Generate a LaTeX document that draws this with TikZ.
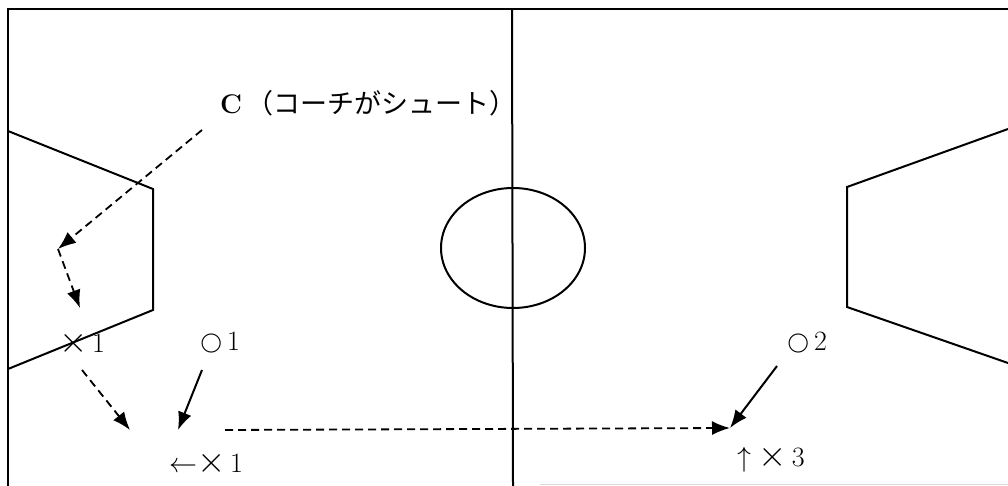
\documentclass[tikz,border=0pt]{standalone}
\usepackage{amsmath}
\usepackage{fontspec}
\usepackage{unicode-math}
\newfontfamily\jpfont{Noto Sans CJK JP}
\usetikzlibrary{arrows.meta}

\newcommand{\cross}{\scalebox{1.3}{$\times$}}

\tikzset{
  court/.style={line width=2pt},
  dashedarrow/.style={line width=1.8pt, dash pattern=on 8pt off 5pt, -{Latex[length=18pt,width=14pt]}},
  solidarrow/.style={line width=2pt, -{Latex[length=18pt,width=14pt]}},
  lbl/.style={inner sep=0pt, font=\fontsize{28}{30}\selectfont}
}

\begin{document}
\begin{tikzpicture}[x=1pt,y=-1pt]
	\useasboundingbox (0,0) rectangle (1008,486);
	
	% Court outline
	\draw[court] (1008,9) -- (8,9) -- (8,486);
	\draw[gray!30, line width=1pt] (540,484) -- (1008,484);
	
	% Center line and circle
	\draw[court] (512,9) -- (513,486);
	\draw[court] (513,248) ellipse (72 and 60);
	
	% Goal areas
	\draw[court] (8,131) -- (153,189) -- (153,310) -- (8,369);
	\draw[court] (1008,129) -- (847,187) -- (847,307) -- (1008,363);
	
	% Labels
	\node[lbl, anchor=west, font=\fontsize{27}{30}\selectfont] (coach) at (220,103) {\textbf{C}\,\jpfont（コーチがシュート）};
	\node[lbl] (x1a) at (82,343) {\cross\,1};
	\node[lbl] (o1) at (220,343) {$\bigcirc$\,1};
	\node[lbl] (x1b) at (206,463) {$\leftarrow$\cross\,1};
	\node[lbl] (o2) at (807,343) {$\bigcirc$\,2};
	\node[lbl] (x3) at (771,460) {$\uparrow$\;\cross\,3};
	
	% Arrow ends
	\coordinate (shot) at (202,130);
	\coordinate (rebound) at (58,249);
	\coordinate (catch) at (80,308);
	\coordinate (runfrom) at (82,370);
	\coordinate (runto) at (130,430);
	\coordinate (o1from) at (202,370);
	\coordinate (o1to) at (178,430);
	\coordinate (passfrom) at (225,430);
	\coordinate (passto) at (730,428);
	\coordinate (o2from) at (777,366);
	
	% Moves
	\draw[dashedarrow] (shot) -- (rebound);
	\draw[dashedarrow] (rebound) -- (catch);
	\draw[dashedarrow] (runfrom) -- (runto);
	\draw[solidarrow] (o1from) -- (o1to);
	\draw[dashedarrow] (passfrom) -- (passto);
	\draw[solidarrow] (o2from) -- (passto);
\end{tikzpicture}
\end{document}
